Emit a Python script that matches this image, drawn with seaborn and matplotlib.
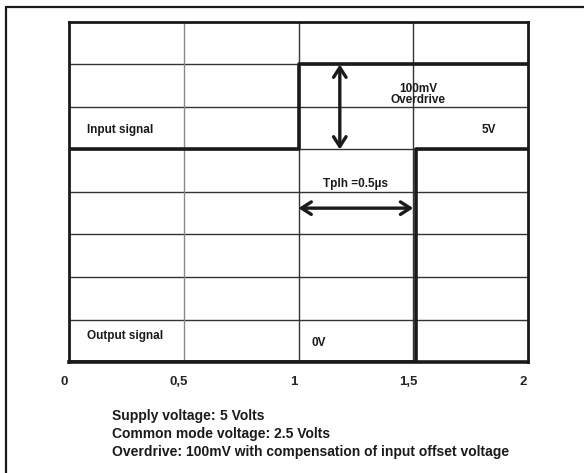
import matplotlib
matplotlib.use('Agg')
import matplotlib.pyplot as plt
import matplotlib.transforms as mtransforms
import seaborn as sns
import pandas as pd
from matplotlib.lines import Line2D

# signal data (time in us, level in grid divisions)
input_t = [0, 1.0, 1.0, 2.0]
input_v = [5, 5, 7, 7]
output_t = [0, 1.51, 1.51, 2.0]
output_v = [0, 0, 5, 5]

x_ticks = [0, 0.5, 1, 1.5, 2]
x_tick_labels = ['0', '0,5', '1', '1,5', '2']

notes_bold = ['Supply voltage:', 'Common mode voltage:', 'Overdrive:']
notes_regular = ['5 Volts', '2.5 Volts', '100mV with compensation of input offset voltage']

sns.set_style('white')
plt.rcParams['font.family'] = ['Liberation Sans', 'DejaVu Sans']

fig = plt.figure(figsize=(5.84, 4.73), dpi=100)
ax = fig.add_axes([69/584, 1 - 362/473, 459/584, 340/473])

# grid
for y in range(1, 8):
    ax.axhline(y, color='#333333', lw=1.0, zorder=1)
ax.axvline(0.5, color='#888888', lw=1.0, zorder=1)
ax.axvline(1.0, color='#333333', lw=1.0, zorder=1)
ax.axvline(1.5, color='#333333', lw=1.0, zorder=1)

df_in = pd.DataFrame({'t': input_t, 'v': input_v})
df_out = pd.DataFrame({'t': output_t, 'v': output_v})
sns.lineplot(data=df_in, x='t', y='v', sort=False, estimator=None, color='#1a1a1a', lw=2.6, ax=ax, zorder=3)
sns.lineplot(data=df_out, x='t', y='v', sort=False, estimator=None, color='#1a1a1a', lw=2.6, ax=ax, zorder=3)

ax.set_xlim(0, 2)
ax.set_ylim(0, 8)
ax.set_xlabel('')
ax.set_ylabel('')
ax.set_yticks([])
ax.set_xticks(x_ticks)
ax.set_xticklabels(x_tick_labels, fontsize=9.5, fontweight='bold')
ax.set_xticks([i / 10 for i in range(21)], minor=True)
ax.tick_params(axis='x', which='major', length=0, pad=10)
ax.tick_params(axis='x', which='minor', direction='in', length=3.5, width=0.9, color='#333333')
shift = mtransforms.ScaledTranslation(-5/100, 0, fig.dpi_scale_trans)
for lbl in ax.get_xticklabels():
    lbl.set_transform(lbl.get_transform() + shift)
for s in ax.spines.values():
    s.set_linewidth(2.0)
    s.set_color('#1a1a1a')
ax.spines['bottom'].set_linewidth(2.6)

# arrows
arrow_style = '<->,head_length=0.7,head_width=0.45'
ax.annotate('', xy=(1.18, 7.0), xytext=(1.18, 5.0),
            arrowprops=dict(arrowstyle=arrow_style, lw=2.4, color='#1a1a1a',
                            shrinkA=0, shrinkB=0))
ax.annotate('', xy=(1.0, 3.62), xytext=(1.5, 3.62),
            arrowprops=dict(arrowstyle=arrow_style, lw=2.4, color='#1a1a1a',
                            shrinkA=0, shrinkB=0))

# labels
lab_kw = dict(fontsize=8.5, fontweight='bold', color='#1a1a1a')
ax.text(0.08, 5.45, 'Input signal', va='center', ha='left', **lab_kw)
ax.text(0.08, 0.6, 'Output signal', va='center', ha='left', **lab_kw)
ax.text(1.52, 6.3, '100mV\nOverdrive', va='center', ha='center', linespacing=0.85, **lab_kw)
ax.text(1.83, 5.45, '5V', va='center', ha='center', **lab_kw)
ax.text(1.25, 4.2, 'Tplh =0.5µs', va='center', ha='center', **lab_kw)
ax.text(1.09, 0.45, '0V', va='center', ha='center', **lab_kw)

# outer frame (left and top only)
fig.add_artist(Line2D([6/584, 6/584], [0, 1 - 7/473], color='#1a1a1a', lw=1.6))
fig.add_artist(Line2D([6/584, 1], [1 - 7/473, 1 - 7/473], color='#1a1a1a', lw=1.6))

# notes below the chart
fig.canvas.draw()
renderer = fig.canvas.get_renderer()
note_y = [416, 434, 452]
for b, r, y in zip(notes_bold, notes_regular, note_y):
    t = fig.text(112/584, 1 - y/473, b + ' ', fontsize=10, fontweight='bold', va='center', ha='left', color='#1a1a1a')
    bb = t.get_window_extent(renderer)
    fig.text(bb.x1 / fig.bbox.width, 1 - y/473, r, fontsize=10, fontweight='bold', va='center', ha='left', color='#1a1a1a')

fig.savefig('out.png', dpi=100)
